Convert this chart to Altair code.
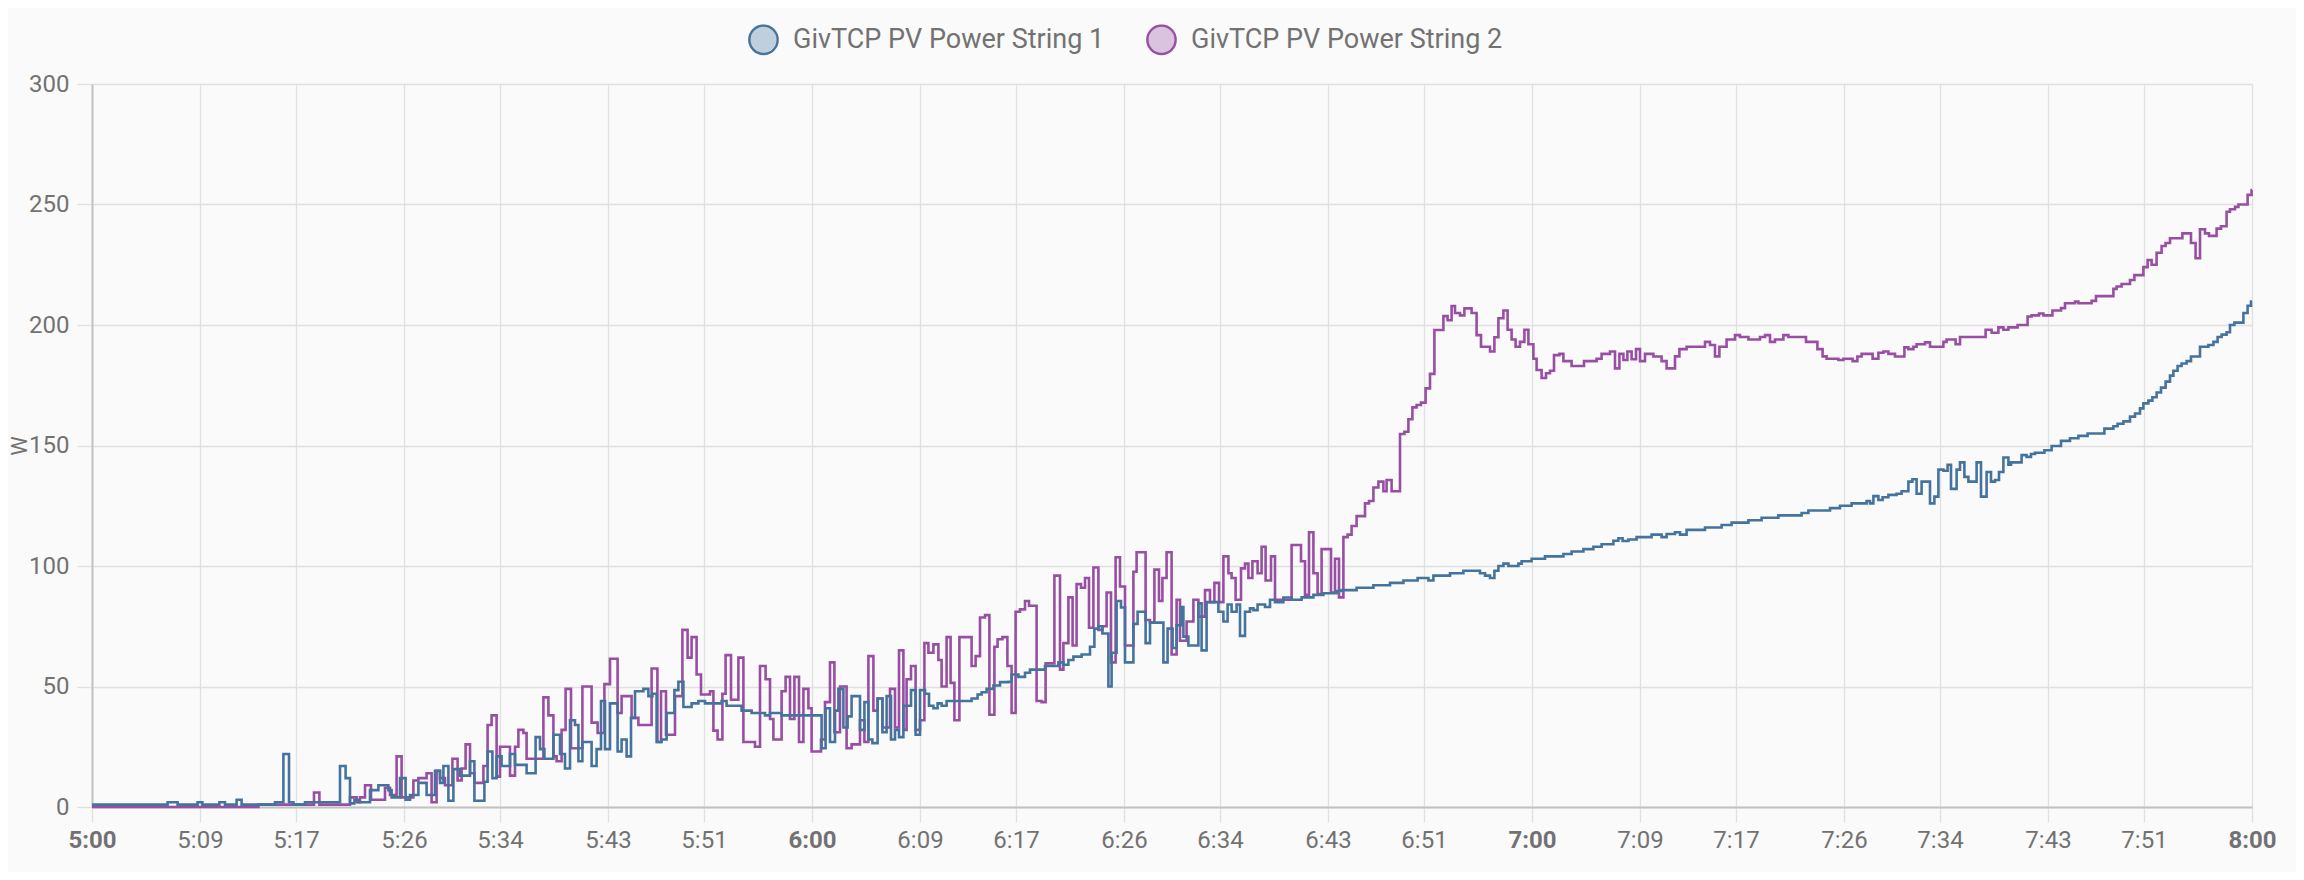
import altair as alt
import pandas as pd

series_names = ["GivTCP PV Power String 1", "GivTCP PV Power String 2"]
series_keys = ["1", "2"]
series_colors = ["#44739e", "#984ea3"]
series_fills = ["rgba(68,115,158,0.45)", "rgba(152,78,163,0.45)"]

# x tick positions, minutes after 5:00
tick_minutes = [0, 9, 17, 26, 34, 43, 51, 60, 69, 77, 86, 94, 103, 111, 120,
                129, 137, 146, 154, 163, 171, 180]
y_ticks = [0, 50, 100, 150, 200, 250, 300]

# (seconds after 5:00, watts) - each value holds until the next reading
string1_steps = [
    (0, 1), (378, 2), (428, 1), (528, 2), (552, 1), (637, 2), (665, 1), (723, 3), (748, 1),
    (915, 2), (957, 22), (985, 2), (1007, 1), (1065, 2), (1240, 17), (1268, 12), (1290, 1.5),
    (1312, 3), (1332, 2), (1390, 7), (1432, 9), (1482, 7), (1498, 4), (1540, 12), (1568, 3),
    (1590, 5), (1632, 10), (1673, 5), (1715, 15), (1740, 10), (1757, 17), (1782, 2.6),
    (1807, 15.7), (1840, 13), (1890, 19), (1912, 2.6), (1962, 10.5), (1978, 23), (2002, 12),
    (2023, 21), (2048, 17), (2090, 22), (2115, 17.5), (2173, 14), (2218, 29), (2240, 24),
    (2262, 20), (2307, 30), (2340, 22), (2365, 16), (2390, 36), (2415, 34), (2432, 19),
    (2452, 27), (2498, 17), (2523, 24), (2545, 44), (2565, 24), (2590, 43), (2628, 23),
    (2648, 28), (2673, 21), (2695, 37), (2715, 48), (2757, 49), (2782, 46), (2802, 47),
    (2823, 27), (2848, 28), (2873, 39), (2912, 48.5), (2932, 52), (2957, 41.5), (2998, 43),
    (3032, 44), (3065, 43), (3148, 44), (3173, 42), (3248, 40), (3298, 39), (3365, 38),
    (3390, 39), (3448, 38), (3648, 24.4), (3668, 41), (3690, 27), (3715, 40), (3732, 49),
    (3757, 33), (3778, 37.6), (3798, 46), (3840, 32), (3862, 43.5), (3882, 28), (3902, 26.5),
    (3928, 45), (3952, 31), (3973, 46), (3995, 28), (4015, 32), (4035, 29), (4057, 42),
    (4095, 48.5), (4118, 30), (4140, 48.5), (4165, 47), (4185, 42), (4207, 41), (4228, 43),
    (4248, 42), (4273, 44), (4398, 45), (4428, 46.7), (4448, 47.6), (4473, 49), (4507, 50.4),
    (4540, 51.8), (4582, 52), (4598, 55), (4632, 54), (4665, 55.7), (4690, 57), (4765, 58.5),
    (4832, 60), (4857, 59), (4882, 61), (4907, 62.4), (4948, 63.3), (4990, 66.5), (5012, 74),
    (5032, 75), (5052, 72), (5082, 50), (5098, 64), (5123, 85.5), (5145, 82.8), (5165, 60),
    (5207, 76), (5228, 81), (5268, 68), (5290, 76.5), (5357, 60), (5378, 74), (5403, 66),
    (5423, 75.4), (5445, 83), (5457, 70.7), (5482, 67), (5532, 84.5), (5548, 65), (5573, 85),
    (5632, 81), (5657, 77), (5678, 84), (5698, 81), (5723, 84), (5740, 71), (5765, 81),
    (5790, 82.4), (5807, 81.7), (5828, 84), (5865, 83), (5890, 86), (5915, 85), (5957, 86.9),
    (5998, 86), (6048, 87), (6107, 88), (6157, 88.7), (6223, 89.6), (6248, 90), (6323, 91),
    (6407, 92), (6490, 93), (6557, 94), (6628, 95), (6682, 94), (6707, 96), (6790, 97),
    (6857, 98), (6940, 97), (6965, 96), (6990, 95), (7012, 98), (7032, 100), (7057, 101),
    (7082, 100), (7132, 101), (7148, 102), (7198, 103), (7265, 104), (7357, 105), (7398, 106),
    (7457, 107), (7507, 108), (7548, 109), (7607, 110.5), (7632, 111.5), (7653, 110.4),
    (7682, 111), (7723, 112), (7798, 113), (7848, 112), (7873, 113.3), (7915, 114), (7940, 113),
    (7973, 115), (8065, 116), (8148, 117), (8198, 118), (8282, 119), (8348, 120), (8432, 121),
    (8548, 122), (8582, 123), (8690, 124), (8740, 125), (8798, 126), (8873, 127), (8890, 126),
    (8907, 129), (8932, 127.4), (8953, 128.5), (8982, 129.5), (9023, 130), (9048, 131),
    (9082, 135), (9102, 136), (9123, 130), (9148, 135), (9190, 126), (9212, 128.8), (9232, 140),
    (9257, 139.5), (9278, 142), (9295, 132), (9323, 140), (9340, 143), (9362, 137), (9382, 135),
    (9423, 143), (9445, 128.8), (9473, 139), (9495, 135), (9515, 135.7), (9535, 139),
    (9557, 145), (9582, 142), (9595, 143), (9648, 146), (9673, 145.3), (9695, 146.5),
    (9715, 147), (9762, 148), (9798, 149.8), (9845, 151.9), (9890, 153), (9932, 154),
    (9978, 155), (10062, 157), (10107, 158), (10128, 159), (10157, 160), (10190, 162),
    (10215, 163.3), (10240, 165.4), (10257, 167.5), (10282, 168.6), (10302, 170), (10323, 172),
    (10345, 174), (10368, 176.5), (10390, 179), (10407, 181), (10428, 183), (10448, 184),
    (10473, 185), (10495, 186.9), (10540, 191), (10582, 191.7), (10607, 193), (10628, 195),
    (10648, 196), (10673, 197), (10690, 200), (10712, 201), (10757, 205), (10778, 208),
    (10795, 209.7), (10800, 209.7),
]

string2_steps = [
    (0, 0), (832, 1), (1110, 6), (1137, 1), (1290, 4), (1323, 2), (1340, 4), (1365, 9),
    (1395, 3), (1465, 8), (1490, 5), (1523, 21), (1548, 4), (1607, 11), (1632, 12), (1673, 14),
    (1698, 2), (1723, 15), (1740, 12), (1765, 9), (1802, 20), (1828, 11), (1848, 16),
    (1868, 26), (1890, 14), (1912, 10), (1957, 17), (1978, 34), (1998, 38), (2023, 12.6),
    (2040, 25), (2090, 13), (2115, 25), (2132, 32), (2157, 30.7), (2173, 20), (2257, 45.5),
    (2282, 38), (2307, 21), (2323, 19), (2348, 32), (2368, 49), (2395, 24.4), (2452, 50),
    (2498, 35), (2528, 30.7), (2562, 51), (2590, 61.5), (2628, 39), (2648, 46), (2698, 37),
    (2732, 34), (2798, 57.5), (2827, 27), (2845, 48), (2870, 30), (2915, 46), (2952, 73.5),
    (2978, 62), (2998, 70.5), (3023, 55), (3045, 46.7), (3090, 48), (3107, 31.7), (3128, 28),
    (3152, 47), (3168, 63), (3195, 44.5), (3232, 62), (3257, 27), (3315, 25), (3340, 58.5),
    (3368, 53), (3390, 36.5), (3407, 28), (3448, 48), (3468, 54), (3490, 36.5), (3512, 54),
    (3535, 27), (3557, 49), (3582, 41), (3598, 23), (3645, 28), (3665, 43.5), (3690, 60),
    (3712, 31), (3740, 50), (3773, 24.4), (3798, 26), (3840, 36), (3862, 27), (3882, 62.6),
    (3907, 40), (3928, 45), (3952, 33), (3990, 49), (4015, 33), (4035, 65), (4057, 32),
    (4073, 53), (4095, 58.5), (4118, 32), (4140, 36), (4162, 68), (4182, 64), (4207, 67.5),
    (4232, 61), (4248, 50), (4273, 70.5), (4293, 51.5), (4312, 36), (4337, 70.5), (4398, 58.5),
    (4418, 62.6), (4440, 78.6), (4465, 79.6), (4487, 38.3), (4512, 66.5), (4528, 69.6),
    (4552, 70.5), (4577, 58.5), (4598, 39), (4618, 81), (4640, 82), (4665, 85.5), (4685, 83.5),
    (4723, 44), (4748, 43.5), (4768, 59.6), (4812, 96), (4840, 57), (4857, 68), (4882, 87),
    (4903, 67), (4923, 92.5), (4945, 91), (4965, 95), (4985, 74.4), (5007, 99.4), (5032, 73.5),
    (5052, 75), (5073, 89), (5095, 60), (5118, 103.6), (5140, 91.5), (5165, 67), (5207, 97.6),
    (5223, 105.7), (5268, 77.6), (5290, 76.5), (5312, 98.5), (5335, 85.5), (5352, 95),
    (5373, 105.7), (5398, 63.3), (5423, 86), (5440, 69), (5473, 77), (5507, 86), (5532, 79),
    (5565, 90), (5590, 85), (5612, 93), (5635, 85), (5657, 104), (5682, 97), (5698, 95),
    (5718, 86), (5745, 99), (5765, 101), (5782, 95), (5802, 102), (5828, 97), (5848, 108),
    (5868, 94), (5895, 104), (5915, 86), (5998, 108.7), (6045, 102), (6065, 88), (6085, 114),
    (6107, 97), (6128, 88.4), (6148, 107), (6195, 89), (6215, 103), (6235, 87), (6257, 112),
    (6278, 113), (6298, 116.6), (6323, 120.7), (6365, 126), (6385, 127), (6407, 132.6),
    (6432, 135), (6457, 131), (6473, 135.7), (6498, 131), (6540, 154.8), (6562, 155.7),
    (6582, 160.9), (6602, 165.8), (6623, 166.8), (6645, 167.8), (6668, 173.7), (6690, 179.7),
    (6712, 197.9), (6757, 203.7), (6778, 202), (6798, 207.9), (6815, 205), (6840, 204),
    (6862, 206.9), (6898, 205), (6923, 195.8), (6945, 191), (6990, 189), (7012, 194.9),
    (7032, 202.8), (7057, 206), (7078, 198), (7098, 194), (7118, 191), (7140, 193), (7162, 198),
    (7182, 192), (7207, 186), (7223, 181.3), (7248, 178), (7270, 180), (7290, 181),
    (7310, 187.5), (7337, 188), (7357, 185), (7398, 183), (7460, 185), (7523, 186), (7548, 188),
    (7590, 189), (7615, 182), (7637, 188), (7657, 185.5), (7677, 189), (7698, 185.8),
    (7720, 190), (7740, 185), (7765, 188), (7807, 186.9), (7848, 185), (7873, 182), (7915, 187),
    (7937, 190), (7973, 191), (8065, 193), (8090, 191.7), (8115, 187), (8137, 191), (8173, 194),
    (8215, 195.8), (8240, 195), (8282, 194), (8340, 195), (8365, 195.8), (8390, 193),
    (8415, 194), (8457, 195.8), (8482, 195), (8570, 193), (8627, 190), (8653, 187), (8673, 186),
    (8732, 185.5), (8757, 186), (8803, 185), (8827, 186.9), (8848, 188), (8903, 186),
    (8932, 188.5), (8957, 189), (8982, 188), (9015, 186.9), (9062, 190.7), (9082, 190),
    (9107, 191), (9123, 192), (9165, 192.8), (9190, 191), (9257, 193), (9273, 194), (9318, 192),
    (9340, 195), (9468, 198), (9498, 196.8), (9532, 199), (9557, 198), (9582, 199), (9628, 200),
    (9678, 203.5), (9698, 204), (9735, 204.8), (9757, 204), (9802, 206), (9845, 207),
    (9865, 209), (9915, 209.7), (9932, 209), (9998, 210), (10020, 212), (10107, 215),
    (10123, 216), (10148, 217), (10190, 218.7), (10212, 220.7), (10257, 224), (10278, 227),
    (10298, 225), (10323, 230), (10348, 232.8), (10368, 234), (10390, 236), (10452, 238),
    (10495, 234), (10518, 227.7), (10540, 239.7), (10565, 238), (10585, 237), (10623, 240),
    (10645, 241), (10673, 247), (10690, 248), (10715, 249), (10732, 250), (10778, 254),
    (10798, 256), (10800, 256),
]

rows = []
for name, key, steps in zip(series_names, series_keys, [string1_steps, string2_steps]):
    for sec, w in steps:
        rows.append({"series": name, "key": key, "sec": sec, "w": w})
df = pd.DataFrame(rows)

FONT = "Roboto"
TEXT = "#727272"
GRID = "#e0e0e0"
DOMAIN = "#c2c2c2"

stroke_scale = alt.Scale(domain=series_names, range=series_colors)
fill_scale = alt.Scale(domain=series_keys, range=series_fills)

x_enc = alt.X(
    "sec:Q",
    scale=alt.Scale(domain=[0, 10800], nice=False, zero=False),
    axis=alt.Axis(
        values=[m * 60 for m in tick_minutes],
        labelExpr="(5 + floor(datum.value / 3600)) + ':' + (round((datum.value % 3600) / 60) < 10 ? '0' : '') + round((datum.value % 3600) / 60)",
        labelFontWeight={"condition": {"test": "datum.value % 3600 === 0", "value": "bold"}, "value": "normal"},
        title=None,
        grid=True, gridColor=GRID, gridWidth=1.3,
        ticks=True, tickSize=15, tickColor=GRID, tickWidth=1.3,
        domain=True, domainColor=DOMAIN, domainWidth=2,
        labelFont=FONT, labelFontSize=24, labelColor=TEXT, labelPadding=6,
        labelOverlap=False, labelFlush=False, labelBound=False, labelAlign="center",
    ),
)
y_enc = alt.Y(
    "w:Q",
    scale=alt.Scale(domain=[0, 300], nice=False),
    axis=alt.Axis(
        values=y_ticks,
        title="W", titleAngle=270, titleX=-66, titleY=361.5, titleAlign="center",
        titleBaseline="alphabetic", titleFont=FONT, titleFontSize=22,
        titleFontWeight="normal", titleColor=TEXT,
        grid=True, gridColor=GRID, gridWidth=1.3,
        ticks=True, tickSize=15, tickColor=GRID, tickWidth=1.3,
        domain=True, domainColor=DOMAIN, domainWidth=2,
        labelFont=FONT, labelFontSize=24, labelColor=TEXT, labelPadding=8,
    ),
)

LEG_X = 656
LEG_Y = -60
common_legend = dict(
    title=None, orient="none", legendX=LEG_X, legendY=LEG_Y, direction="horizontal",
    symbolType="circle", symbolSize=800, labelFont=FONT, labelFontSize=27,
    labelColor=TEXT, labelLimit=1000, padding=0,
)

# outline circles + labels (from the line colours)
stroke_legend = alt.Legend(symbolStrokeWidth=2.4, symbolFillColor="transparent", zindex=2,
                           labelOffset=14, columnPadding=37, **common_legend)
# translucent filled circles underneath, no labels
fill_legend = alt.Legend(symbolStrokeWidth=0, zindex=1, labelExpr="''",
                         labelOffset=0, columnPadding=370, **common_legend)

base = alt.Chart(df)


def line_layer(name):
    return base.transform_filter(alt.datum.series == name).mark_line(
        interpolate="step-after", strokeWidth=2.6
    ).encode(
        x=x_enc, y=y_enc,
        stroke=alt.Stroke("series:N", scale=stroke_scale, legend=stroke_legend),
    )


legend_fill_layer = base.transform_filter("false").mark_point(filled=True).encode(
    x=x_enc, y=y_enc,
    fill=alt.Fill("key:N", scale=fill_scale, legend=fill_legend),
)

chart = alt.layer(
    legend_fill_layer, line_layer(series_names[1]), line_layer(series_names[0])
).properties(
    width=2160, height=723,
    autosize=alt.AutoSizeParams(type="none"),
    padding={"left": 84, "top": 76, "right": 44, "bottom": 65},
    background="#fafafa",
).configure_view(stroke=None)

chart.save("out.html", embed_options={"renderer": "svg", "actions": False})
